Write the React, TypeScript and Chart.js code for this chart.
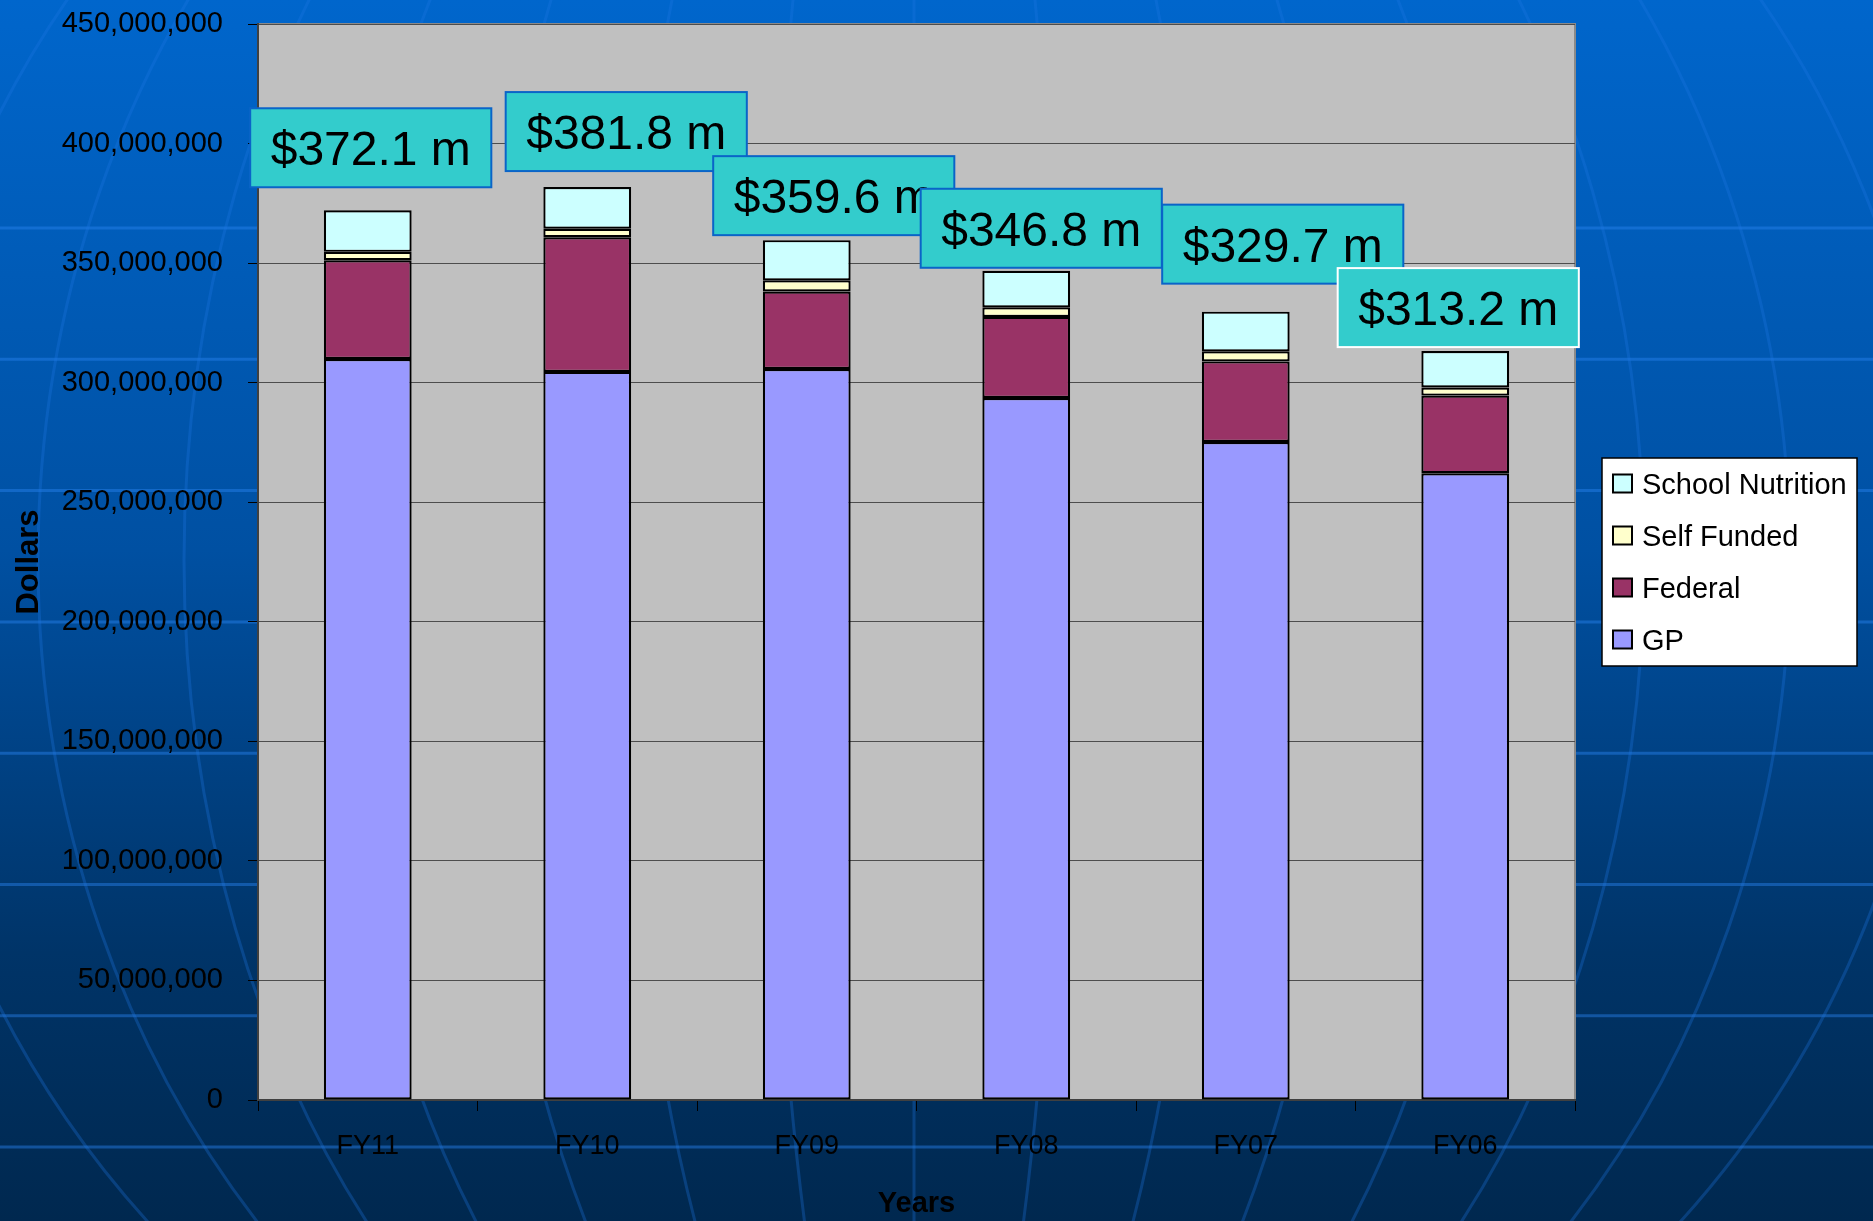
import React, { useEffect, useRef } from "react";
import { Chart, registerables } from "chart.js";

Chart.register(...registerables);

// ---------- data ----------
const categories = ["FY11", "FY10", "FY09", "FY08", "FY07", "FY06"];
const gpValues = [309.9e6, 304.5e6, 305.7e6, 293.6e6, 275.2e6, 262.1e6];
const federalValues = [41.3e6, 56.3e6, 32.4e6, 33.9e6, 33.7e6, 32.5e6];
const selfFundedValues = [3.5e6, 3.6e6, 4.7e6, 4.0e6, 4.2e6, 3.4e6];
const schoolNutritionValues = [17.4e6, 17.4e6, 16.8e6, 15.3e6, 16.6e6, 15.2e6];
const totalLabels = ["$372.1 m", "$381.8 m", "$359.6 m", "$346.8 m", "$329.7 m", "$313.2 m"];
const yMin = 0;
const yMax = 450e6;
const yStep = 50e6;

// ---------- styling (not data) ----------
const FONT = '"Liberation Sans", Arial, Helvetica, sans-serif';
// callout placement relative to bar top: [dx from bar centre, gap above bar top]
const calloutShift = [
  [3, 23],
  [39, 16],
  [27, 5],
  [15, 3],
  [37, 28],
  [-7, 4],
];
const calloutBorder = ["#0A64C8", "#0A64C8", "#0A64C8", "#0A64C8", "#0A64C8", "#FFFFFF"];

const backgroundPlugin = {
  id: "slideBackground",
  beforeDraw(chart: any) {
    const { ctx, width, height, chartArea } = chart;
    ctx.save();
    const g = ctx.createLinearGradient(0, 0, 0, height);
    g.addColorStop(0, "#0066CC");
    g.addColorStop(0.45, "#0050A2");
    g.addColorStop(0.78, "#003468");
    g.addColorStop(1, "#00284F");
    ctx.fillStyle = g;
    ctx.fillRect(0, 0, width, height);

    // horizontal lines
    ctx.strokeStyle = "rgba(40,130,240,0.45)";
    ctx.lineWidth = 3;
    for (let y = 228; y < height; y += 131.3) {
      ctx.beginPath();
      ctx.moveTo(0, y);
      ctx.lineTo(width, y);
      ctx.stroke();
    }
    // meridians
    ctx.strokeStyle = "rgba(30,120,230,0.3)";
    ctx.lineWidth = 3;
    const cx = 914, cy = 560, ry = 1000;
    ctx.beginPath();
    ctx.moveTo(cx, 0);
    ctx.lineTo(cx, height);
    ctx.stroke();
    for (let k = 1; k <= 7; k++) {
      ctx.beginPath();
      ctx.ellipse(cx, cy, 146 * k, ry, 0, 0, Math.PI * 2);
      ctx.stroke();
    }

    // plot area
    const { left, top, right, bottom } = chartArea;
    ctx.fillStyle = "#C0C0C0";
    ctx.fillRect(left, top, right - left, bottom - top);
    ctx.strokeStyle = "#8A8A8A";
    ctx.lineWidth = 2;
    ctx.strokeRect(left, top, right - left, bottom - top);
    ctx.restore();
  },
};

const calloutPlugin = {
  id: "callouts",
  afterDraw(chart: any) {
    const { ctx } = chart;
    const xs = chart.scales.x;
    const ys = chart.scales.y;
    ctx.save();
    ctx.font = `48px ${FONT}`;
    categories.forEach((_, i) => {
      const total = gpValues[i] + federalValues[i] + selfFundedValues[i] + schoolNutritionValues[i];
      const cx = xs.getPixelForValue(i) + calloutShift[i][0];
      const bottom = ys.getPixelForValue(total) - calloutShift[i][1];
      const tw = ctx.measureText(totalLabels[i]).width;
      const w = tw + 41;
      const h = 79;
      const x0 = cx - w / 2;
      const y0 = bottom - h;
      ctx.fillStyle = "#33CCCC";
      ctx.fillRect(x0, y0, w, h);
      ctx.strokeStyle = calloutBorder[i];
      ctx.lineWidth = 2;
      ctx.strokeRect(x0, y0, w, h);
      ctx.fillStyle = "#000000";
      ctx.textAlign = "center";
      ctx.textBaseline = "alphabetic";
      ctx.fillText(totalLabels[i], cx, y0 + h / 2 + 17.5);
    });
    ctx.restore();
  },
};

const legendPlugin = {
  id: "boxLegend",
  afterDraw(chart: any) {
    const { ctx, chartArea } = chart;
    const left = chartArea.right + 27;
    const top = 458;
    const w = 255;
    const h = 208;
    ctx.save();
    ctx.fillStyle = "#FFFFFF";
    ctx.fillRect(left, top, w, h);
    ctx.strokeStyle = "#000000";
    ctx.lineWidth = 1.5;
    ctx.strokeRect(left, top, w, h);
    const ds = chart.data.datasets.slice().reverse();
    ctx.font = `29px ${FONT}`;
    ctx.textAlign = "left";
    ctx.textBaseline = "alphabetic";
    ds.forEach((d: any, i: number) => {
      const cy = top + 25.5 + i * 52;
      ctx.fillStyle = d.backgroundColor;
      ctx.fillRect(left + 11, cy - 9, 19, 18);
      ctx.strokeStyle = "#000000";
      ctx.lineWidth = 2;
      ctx.strokeRect(left + 11, cy - 9, 19, 18);
      ctx.fillStyle = "#000000";
      ctx.fillText(d.label, left + 40, cy + 10.4);
    });
    ctx.restore();
  },
};

export default function App() {
  const canvasRef = useRef<HTMLCanvasElement | null>(null);

  useEffect(() => {
    if (!canvasRef.current) return;
    Chart.defaults.font.family = FONT;
    const barStyle = {
      borderColor: "#000000",
      borderWidth: 2.2,
      borderSkipped: false as const,
      barPercentage: 0.4,
      categoryPercentage: 1,
    };
    const chart = new Chart(canvasRef.current, {
      type: "bar",
      data: {
        labels: categories,
        datasets: [
          { label: "GP", data: gpValues, backgroundColor: "#9999FF", ...barStyle },
          { label: "Federal", data: federalValues, backgroundColor: "#993366", ...barStyle },
          { label: "Self Funded", data: selfFundedValues, backgroundColor: "#FFFFCC", ...barStyle },
          { label: "School Nutrition", data: schoolNutritionValues, backgroundColor: "#CCFFFF", ...barStyle },
        ],
      },
      options: {
        responsive: false,
        devicePixelRatio: 1,
        animation: false,
        layout: { padding: { top: 24, right: 298, left: 0, bottom: 0 } },
        plugins: {
          legend: { display: false },
          tooltip: { enabled: false },
        },
        scales: {
          x: {
            stacked: true,
            grid: {
              drawOnChartArea: false,
              drawTicks: true,
              tickLength: 11,
              tickColor: "#000000",
              tickWidth: 1,
              offset: true,
            },
            border: { color: "#404040", width: 2 },
            ticks: {
              color: "#000000",
              font: { size: 27 },
              padding: 19,
              maxRotation: 0,
            },
            title: {
              display: true,
              text: "Years",
              color: "#000000",
              font: { size: 29, weight: "bold" },
              padding: { top: 0, bottom: 0 },
            },
            afterFit: (scale: any) => {
              scale.height = 121;
              scale.paddingLeft = 0;
              scale.paddingRight = 0;
            },
          },
          y: {
            stacked: true,
            min: yMin,
            max: yMax,
            grid: {
              color: "#4D4D4D",
              lineWidth: 1,
              drawTicks: true,
              tickLength: 10,
              tickColor: "#000000",
            },
            border: { color: "#404040", width: 2 },
            ticks: {
              stepSize: yStep,
              color: "#000000",
              font: { size: 29 },
              padding: 25,
              callback: (v: any) => Number(v).toLocaleString("en-US"),
            },
            title: {
              display: true,
              text: "Dollars",
              color: "#000000",
              font: { size: 31, weight: "bold" },
              padding: { top: 11, bottom: 0 },
            },
            afterFit: (scale: any) => {
              scale.width = 258;
              scale.paddingTop = 0;
              scale.paddingBottom = 0;
            },
          },
        },
      },
      plugins: [backgroundPlugin, calloutPlugin, legendPlugin],
    });
    return () => chart.destroy();
  }, []);

  return (
    <div style={{ position: "absolute", left: 0, top: 0, width: 1873, height: 1221, overflow: "hidden" }}>
      <canvas ref={canvasRef} width={1873} height={1221} style={{ display: "block" }} />
    </div>
  );
}
